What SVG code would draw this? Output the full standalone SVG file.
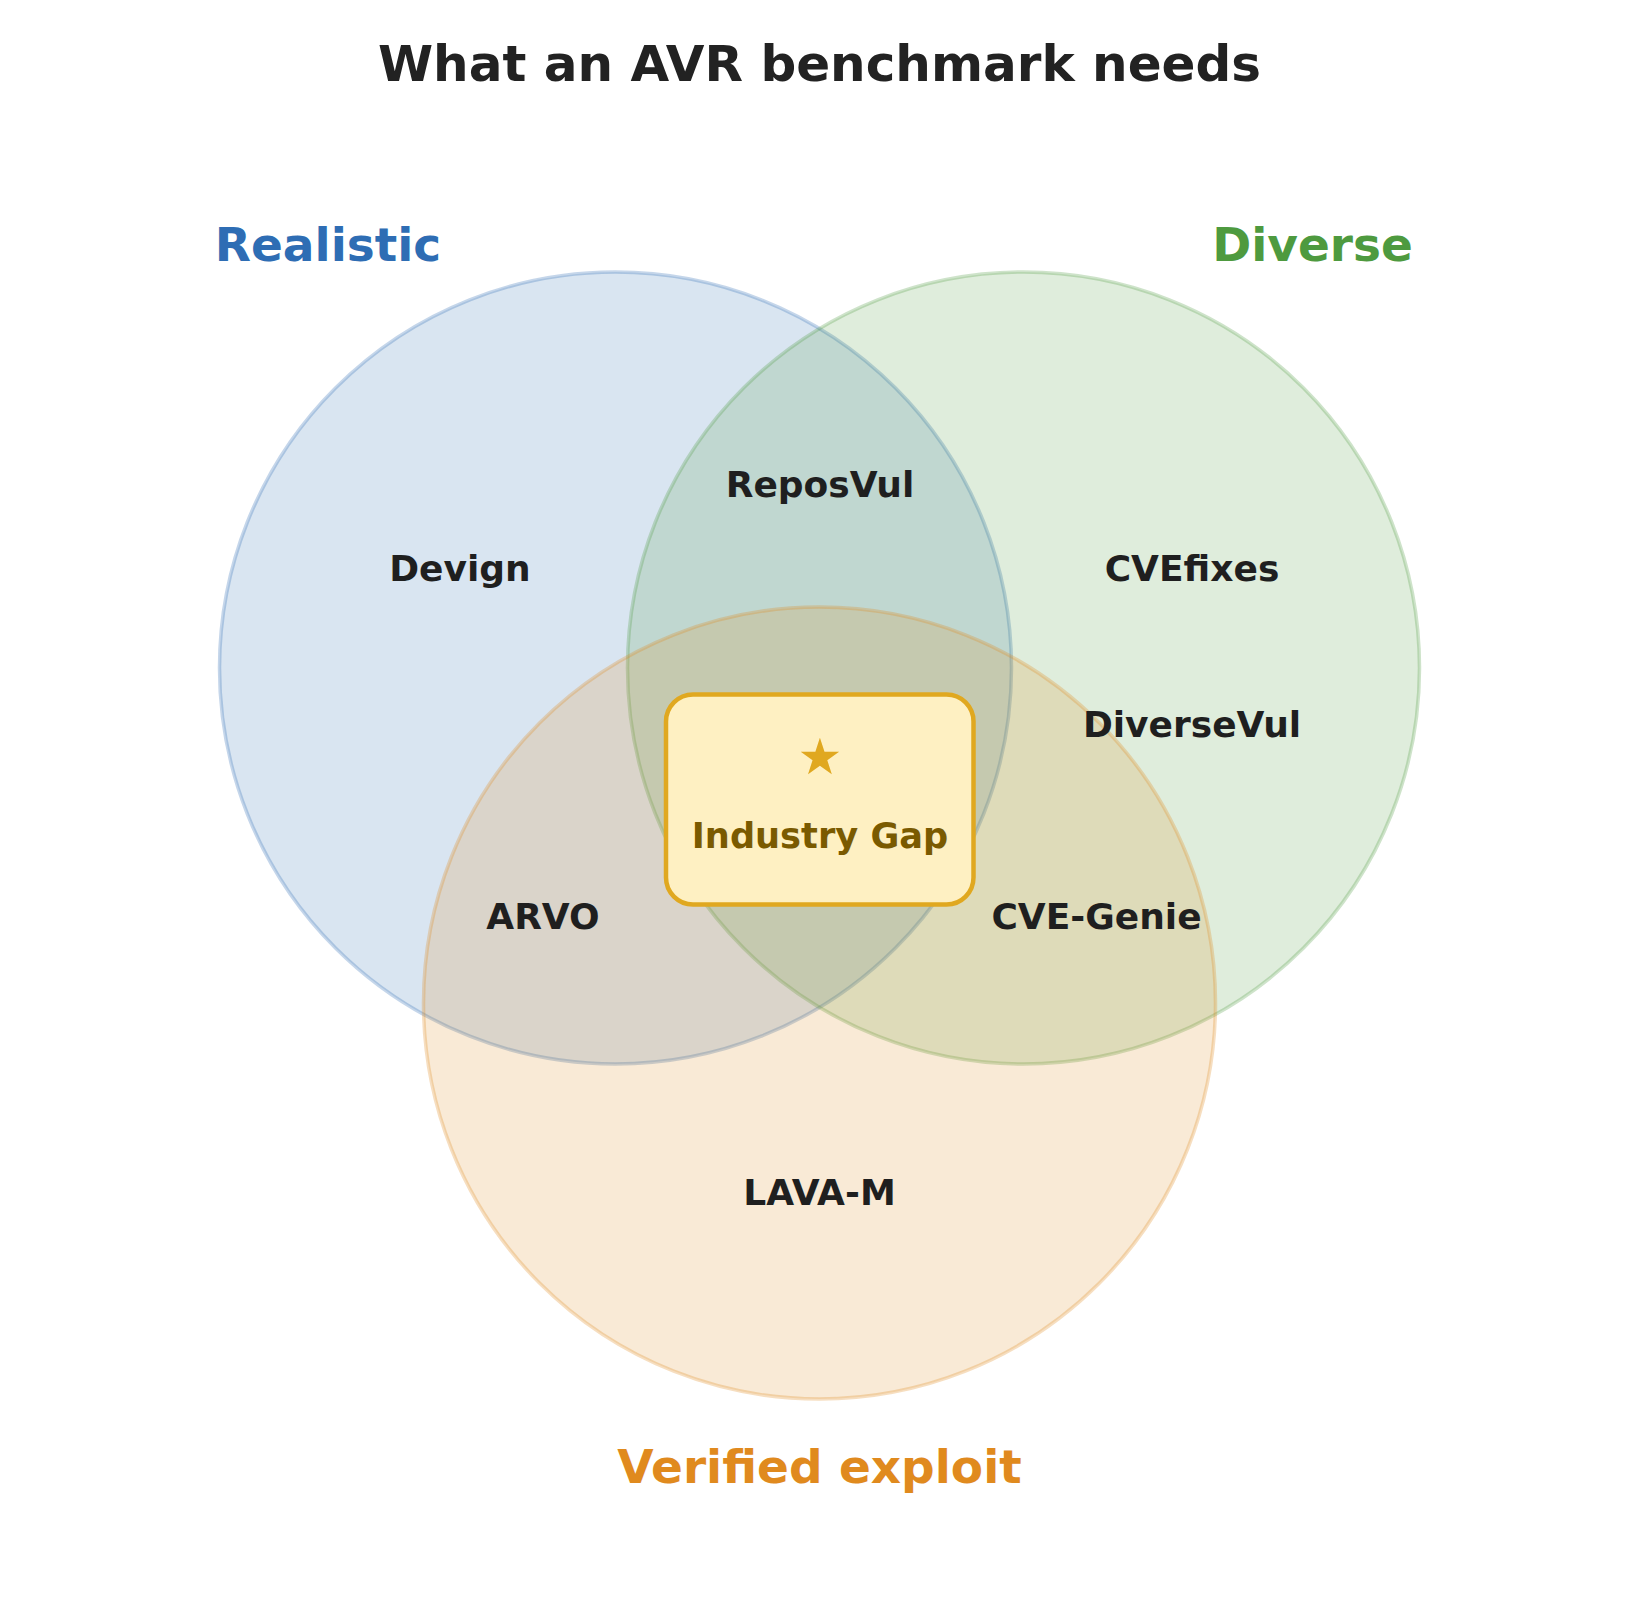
<svg xmlns="http://www.w3.org/2000/svg" width="1639" height="1600" viewBox="0 0 1639 1600">
<style>
text{font-family:"DejaVu Sans","Liberation Sans",sans-serif;font-weight:bold;text-anchor:middle}
.title{font-size:50px;fill:#222222}
.set{font-size:47px}
.item{font-size:36px;fill:#1f1f1f}
.c{stroke-width:3.5;fill-opacity:0.18;stroke-opacity:0.28}
</style>
<rect width="1639" height="1600" fill="#ffffff"/>
<text class="title" x="819.5" y="81">What an AVR benchmark needs</text>
<g id="sets">
<g id="realistic"><circle class="c" cx="615.5" cy="668" r="396" fill="#2e6db4" stroke="#2e6db4"/></g>
<g id="diverse"><circle class="c" cx="1023.5" cy="668" r="396" fill="#4e9a3f" stroke="#4e9a3f"/></g>
<g id="verified"><circle class="c" cx="819.5" cy="1003" r="396" fill="#e08a1e" stroke="#e08a1e"/></g>
</g>
<g id="set-labels">
<text class="set" x="328" y="261" fill="#2e6db4">Realistic</text>
<text class="set" x="1312.5" y="261" fill="#4e9a3f">Diverse</text>
<text class="set" x="819.5" y="1483" fill="#e08a1e">Verified exploit</text>
</g>
<g id="items">
<g id="devign"><text class="item" x="460" y="581">Devign</text></g>
<g id="reposvul"><text class="item" x="820" y="497">ReposVul</text></g>
<g id="cvefixes"><text class="item" x="1192" y="581">CVEfixes</text></g>
<g id="diversevul"><text class="item" x="1192" y="737">DiverseVul</text></g>
<g id="arvo"><text class="item" x="543" y="929">ARVO</text></g>
<g id="cvegenie"><text class="item" x="1096.5" y="929">CVE-Genie</text></g>
<g id="lavam"><text class="item" x="819.5" y="1205">LAVA-M</text></g>
</g>
<g id="industry-gap">
<rect x="666" y="694.5" width="307.5" height="210" rx="27" fill="#fef0c2" stroke="#e0a820" stroke-width="4.5"/>
<text x="820" y="774" style="font-size:50px;fill:#e0a820;font-weight:normal">★</text>
<text x="820" y="848" style="font-size:35.2px;fill:#7a5a00">Industry Gap</text>
</g>
<g id="connectors"></g>
</svg>
